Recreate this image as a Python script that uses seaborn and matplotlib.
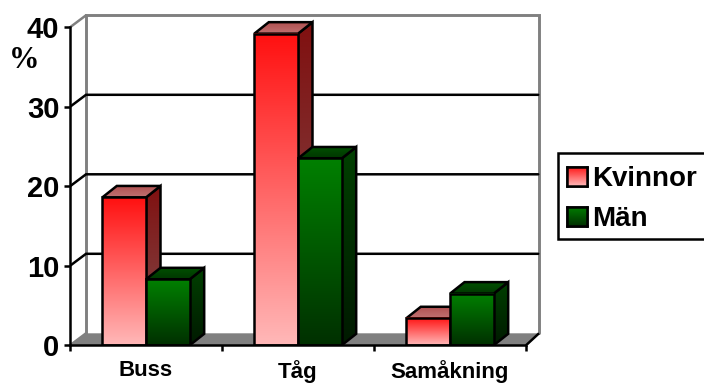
import numpy as np
import pandas as pd
import matplotlib
matplotlib.use("Agg")
import matplotlib.pyplot as plt
import seaborn as sns
from matplotlib.colors import LinearSegmentedColormap
from matplotlib.patches import Polygon, Patch, Rectangle

categories = ["Buss", "Tåg", "Samåkning"]
series_names = ["Kvinnor", "Män"]
kvinnor = [18.6, 39.2, 3.4]
man = [8.3, 23.5, 6.5]
y_ticks = [0, 10, 20, 30, 40]

FIG_W, FIG_H = 704, 383
SANS = "Liberation Sans"

sns.set_theme(style="white", rc={"font.family": SANS})

# Axes frame in pixels; the frame is larger than the value range so the
# pseudo-3D walls and bar depth stay inside it.
X0, Y0, X1, Y1 = 70.0, 345.3, 548.0, 8.0
PX_PER_CAT = 152.0
PX_PER_UNIT = 7.95
DX, DY = 14.5 / PX_PER_CAT, 11.5 / PX_PER_UNIT      # bar depth
WALL_L, WALL_R = 16 / PX_PER_CAT, 13 / PX_PER_CAT   # wall offsets
WALL_Y = 12 / PX_PER_UNIT
LW = 1.8

fig = plt.figure(figsize=(FIG_W / 100, FIG_H / 100), dpi=100, facecolor="white")
ax = fig.add_axes([X0 / FIG_W, 1 - Y0 / FIG_H, (X1 - X0) / FIG_W, (Y0 - Y1) / FIG_H])

df = pd.DataFrame({
    "Kategori": categories * 2,
    "Andel": kvinnor + man,
    "Kön": [series_names[0]] * 3 + [series_names[1]] * 3,
})
sns.barplot(data=df, x="Kategori", y="Andel", hue="Kön", hue_order=series_names,
            width=0.575, gap=0, dodge=True, legend=False, ax=ax,
            palette=["#ff1010", "#008000"], edgecolor="black", linewidth=LW)

xmin, xmax = -0.5, 2.5
ylim_top = (Y0 - Y1) / PX_PER_UNIT
xlim_right = xmin + (X1 - X0) / PX_PER_CAT
ymax = y_ticks[-1]


def ramp(top, bottom):
    return LinearSegmentedColormap.from_list("ramp", [bottom, top])


def gradient(poly_xy, top, bottom, z):
    """Fill a polygon with a vertical colour ramp."""
    poly_xy = np.asarray(poly_xy)
    im = ax.imshow(np.linspace(0, 1, 128)[:, None], origin="lower", aspect="auto",
                   cmap=ramp(top, bottom), zorder=z, interpolation="bilinear",
                   extent=[poly_xy[:, 0].min(), poly_xy[:, 0].max(),
                           poly_xy[:, 1].min(), poly_xy[:, 1].max()])
    edge = Polygon(poly_xy, closed=True, facecolor="none", edgecolor="black",
                   linewidth=LW, zorder=z + 0.1, joinstyle="miter")
    ax.add_patch(edge)
    im.set_clip_path(Polygon(poly_xy, closed=True, transform=ax.transData))


# Floor and back walls
floor = [(xmin, 0), (xmin + WALL_L, WALL_Y), (xmax + WALL_R, WALL_Y), (xmax, 0)]
ax.add_patch(Polygon(floor, closed=True, facecolor="#808080", edgecolor="none", zorder=1))
ax.plot([xmax, xmax + WALL_R], [0, WALL_Y], color="black", lw=LW, zorder=1.2,
        solid_capstyle="butt")
ax.plot([xmin + WALL_L, xmin + WALL_L, xmax + WALL_R, xmax + WALL_R],
        [WALL_Y, ymax + WALL_Y, ymax + WALL_Y, WALL_Y],
        color="#808080", lw=LW + 0.3, zorder=1.1, solid_joinstyle="miter")
ax.plot([xmin, xmin + WALL_L], [ymax, ymax + WALL_Y], color="#808080", lw=LW, zorder=1.1)
ax.plot([xmin, xmin + WALL_L], [0, WALL_Y], color="#808080", lw=LW, zorder=1.1)

# Gridlines run across the back wall and down the side wall to each tick
for v in y_ticks[1:-1]:
    ax.plot([xmin, xmin + WALL_L, xmax + WALL_R - 0.005], [v, v + WALL_Y, v + WALL_Y],
            color="black", lw=LW, zorder=1.3, solid_joinstyle="miter")

# Colour ramps per series: front, side and top faces
FACES = [
    dict(front=("#ff1010", "#ffb8b8"), side=("#801010", "#805050"), top=("#b05050", "#c07070")),
    dict(front=("#008000", "#003000"), side=("#004000", "#001a00"), top=("#005000", "#003800")),
]

# Front faces and depth faces come from the bars seaborn laid out
for s, container in enumerate(ax.containers):
    for bar in container:
        x, w, h = bar.get_x(), bar.get_width(), bar.get_height()
        base = 3 + 2 * s
        side = [(x + w, 0), (x + w + DX, DY), (x + w + DX, h + DY), (x + w, h)]
        top = [(x, h), (x + DX, h + DY), (x + w + DX, h + DY), (x + w, h)]
        gradient(side, *FACES[s]["side"], base)
        gradient(top, FACES[s]["top"][0], FACES[s]["top"][1], base + 0.2)
        ax.imshow(np.linspace(0, 1, 128)[:, None], origin="lower", aspect="auto",
                  cmap=ramp(*FACES[s]["front"]), zorder=base + 0.4,
                  extent=[x, x + w, 0, h], interpolation="bilinear")
        bar.set_facecolor("none")
        bar.set_zorder(base + 0.5)
        bar.set_joinstyle("miter")

ax.set_xlim(xmin, xlim_right)
ax.set_ylim(0, ylim_top)
ax.patch.set_alpha(0)

# Axis lines and ticks
for name in ("top", "right"):
    ax.spines[name].set_visible(False)
for name in ("left", "bottom"):
    ax.spines[name].set_linewidth(LW)
    ax.spines[name].set_color("black")
    ax.spines[name].set_zorder(20)
ax.spines["left"].set_bounds(0, ymax)
ax.spines["bottom"].set_bounds(xmin, xmax)

ax.set_xlabel("")
ax.set_ylabel("")
ax.set_yticks(y_ticks)
ax.set_yticklabels([str(v) for v in y_ticks], fontsize=21, fontweight="bold",
                   fontfamily=SANS, color="black")
ax.set_xticks(range(len(categories)))
ax.set_xticklabels(categories, fontsize=16, fontweight="bold", fontfamily=SANS, color="black")
ax.set_xticks([-0.5, 0.5, 1.5, 2.5], minor=True)
ax.tick_params(axis="x", which="major", length=0, pad=10.5)
ax.tick_params(axis="x", which="minor", length=4, width=LW, color="black", bottom=True)
ax.tick_params(axis="y", which="major", length=4, width=LW, color="black", left=True, pad=3.7)

fig.text(24.5 / FIG_W, 1 - 61 / FIG_H, "%", fontsize=22, fontweight="bold",
         fontfamily="Liberation Serif", ha="center", va="center", color="black")

# Legend box is a separate rectangle so its size stays independent of the row layout
fig.add_artist(Rectangle((557.5 / FIG_W, 1 - 239 / FIG_H), 160 / FIG_W, 85.5 / FIG_H,
                         transform=fig.transFigure, facecolor="white", edgecolor="black",
                         linewidth=LW, zorder=2))
handles = [Patch(facecolor="white", edgecolor="black", linewidth=LW, label=n) for n in series_names]
leg = fig.legend(handles=handles, loc="upper left",
                 bbox_to_anchor=(559 / FIG_W, 1 - 158 / FIG_H), borderaxespad=0,
                 frameon=False,
                 prop={"family": SANS, "weight": "bold", "size": 20},
                 handlelength=0.69, handleheight=0.69, handletextpad=0.22,
                 labelspacing=0.5, borderpad=0.3)
leg.set_zorder(3)
for txt in leg.get_texts():
    txt.set_color("black")

fig.canvas.draw()
for patch, s in zip(leg.get_patches(), range(2)):
    bb = patch.get_window_extent().transformed(fig.transFigure.inverted())
    sw = fig.add_axes([bb.x0, bb.y0, bb.width, bb.height], zorder=10)
    sw.imshow(np.linspace(0, 1, 64)[:, None], origin="lower", aspect="auto",
              cmap=ramp(*FACES[s]["front"]), interpolation="bilinear")
    sw.set_xticks([])
    sw.set_yticks([])
    for sp in sw.spines.values():
        sp.set_linewidth(LW)
        sp.set_color("black")

fig.savefig("out.png", dpi=100, facecolor="white")
